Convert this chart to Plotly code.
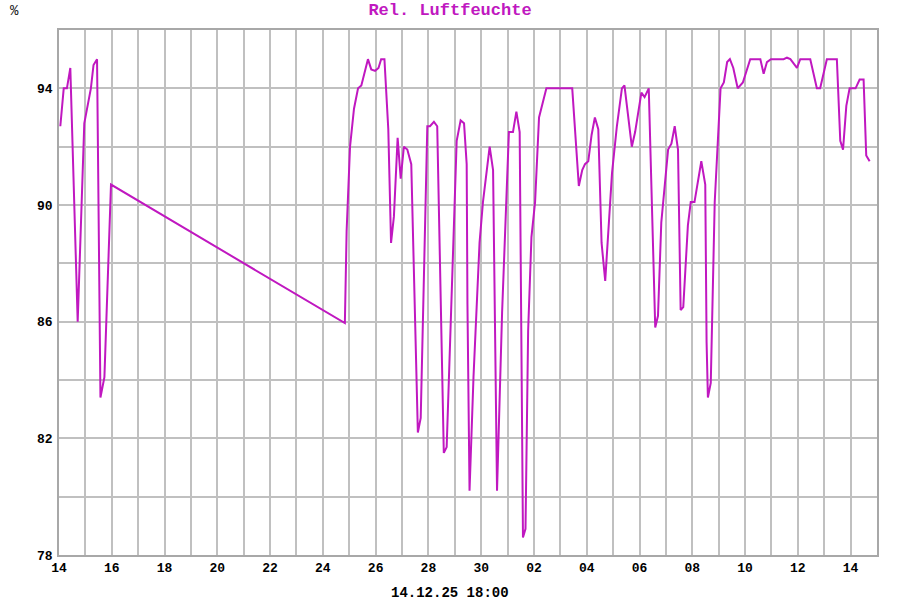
import pandas as pd
import plotly.graph_objects as go

# Stunden seit 14.11.25 00:00 und rel. Luftfeuchte in %
stunden = [1.2, 4.3, 7.2, 10.3, 17, 23, 29, 31.4, 34.6, 37.7, 41.3, 47.3,
           260, 261.6, 264.7, 268.3, 272, 275, 281, 284, 287.5, 290.6, 293, 296,
           299.5, 302, 304.6, 308, 310.8, 313.7, 316.8, 320.4, 326.4, 329,
           335, 337.4, 341, 344, 350, 352.6, 361.7, 365.3, 368.4, 370.8, 371.5,
           373.4, 377, 382.5, 385.6, 391.7, 394.8, 398.4, 403, 406.8, 409.2,
           412.9, 416, 419, 420.2, 422, 424.3, 426.7, 429.7, 433, 436.6, 443.3,
           466.8, 469.3, 472.8, 475.9, 478.4, 481.4, 484.4, 487.4, 490.5, 493.5,
           495.9, 496.8, 503, 507.4, 512, 514.3, 521, 524, 529.7, 532.6, 536.4,
           538.1, 542.3, 544.8, 547.8, 554, 557, 560, 563, 565.4, 567.8, 572,
           574.6, 578, 584.2, 587.8, 589, 590.2, 592.8, 596.4, 601.7, 604.7,
           607.7, 610.2, 613.3, 617.3, 622, 628.7, 637.9, 640.9, 643.9, 647.5,
           659.1, 662.1, 665.2, 671.2, 674.2, 683.3, 689.3, 692.3, 698.4, 707.5,
           710.6, 713.1, 716.1, 719.1, 724.5, 728.2, 731.8, 734.2, 737.3]
feuchte = [92.7, 94.0, 94.0, 94.7, 86.0, 92.8, 94.0, 94.8, 95.0, 83.4, 84.1, 90.7,
           85.95, 89.1, 92.0, 93.3, 94.0, 94.1, 95.0, 94.65, 94.6, 94.7, 95.0, 95.0,
           92.6, 88.7, 89.6, 92.3, 90.9, 92.0, 91.9, 91.4, 82.2, 82.7,
           92.7, 92.7, 92.85, 92.7, 81.5, 81.7, 92.2, 92.9, 92.8, 91.4, 86.6,
           80.2, 84.1, 88.7, 90.1, 92.0, 91.2, 80.2, 86.3, 89.8, 92.5,
           92.5, 93.2, 92.5, 85.7, 78.6, 78.9, 85.7, 88.9, 90.1, 93.0, 94.0,
           94.0, 92.6, 90.65, 91.2, 91.4, 91.5, 92.4, 93.0, 92.6, 88.7,
           87.7, 87.4, 91.1, 92.7, 94.0, 94.1, 92.0, 92.5, 93.85, 93.7, 94.0,
           91.8, 85.8, 86.2, 89.4, 91.9, 92.1, 92.7, 91.9, 86.4, 86.5, 89.3,
           90.1, 90.1, 91.5, 90.7, 85.3, 83.4, 83.9, 90.1, 94.0, 94.2,
           94.9, 95.0, 94.7, 94.0, 94.2, 95.0, 95.0, 94.5, 94.9, 95.0,
           95.0, 95.05, 95.0, 94.7, 95.0, 95.0, 94.0, 94.0, 95.0, 95.0,
           92.2, 91.9, 93.4, 94.0, 94.0, 94.3, 94.3, 91.7, 91.5]

start = pd.Timestamp("2025-11-14 00:00")
zeit = start + pd.to_timedelta(stunden, unit="h")

farbe = "#c018c0"
gitter = "#c0c0c0"

fig = go.Figure()
fig.add_trace(go.Scatter(x=zeit, y=feuchte, mode="lines",
                         line=dict(color=farbe, width=2)))

tickfont = dict(family="Liberation Mono", size=13, color="#000000", weight="bold")

fig.update_layout(
    width=900, height=600,
    margin=dict(l=59, r=23, t=30, b=45),
    plot_bgcolor="white", paper_bgcolor="white",
    showlegend=False,
    title=dict(text="Rel. Luftfeuchte", x=0.5, xanchor="center", y=0.985, yanchor="middle",
               font=dict(family="Liberation Mono", size=17, color=farbe, weight="bold")),
    xaxis=dict(
        range=[start, start + pd.Timedelta(days=31)],
        tick0=start, dtick=2 * 86400000, tickformat="%d",
        showgrid=True, gridcolor=gitter, gridwidth=2,
        minor=dict(dtick=86400000, showgrid=True, gridcolor=gitter, gridwidth=2),
        showline=True, linecolor="#a8a8a8", linewidth=1.5, mirror=True,
        tickfont=tickfont, ticks="", zeroline=False,
    ),
    yaxis=dict(
        range=[78, 96], tick0=78, dtick=4,
        showgrid=True, gridcolor=gitter, gridwidth=2,
        minor=dict(dtick=2, showgrid=True, gridcolor=gitter, gridwidth=2),
        showline=True, linecolor="#a8a8a8", linewidth=1.5, mirror=True,
        tickfont=tickfont, ticks="", zeroline=False, ticklabelstandoff=2,
    ),
)

fig.add_annotation(text="%", xref="paper", yref="paper", x=-0.054, y=1.037,
                   xanchor="center", yanchor="middle", showarrow=False,
                   font=dict(family="Liberation Mono", size=14, color="#202020"))
fig.add_annotation(text="14.12.25 18:00", xref="paper", yref="paper", x=0.478, y=-0.073,
                   xanchor="center", yanchor="middle", showarrow=False,
                   font=dict(family="Liberation Mono", size=14, color="#000000", weight="bold"))

# Seitenrand des Browsers entfernen, damit die Grafik bei 0,0 beginnt
fig.write_html("out.html", config={"displayModeBar": False},
               post_script="document.body.style.margin='0';")
